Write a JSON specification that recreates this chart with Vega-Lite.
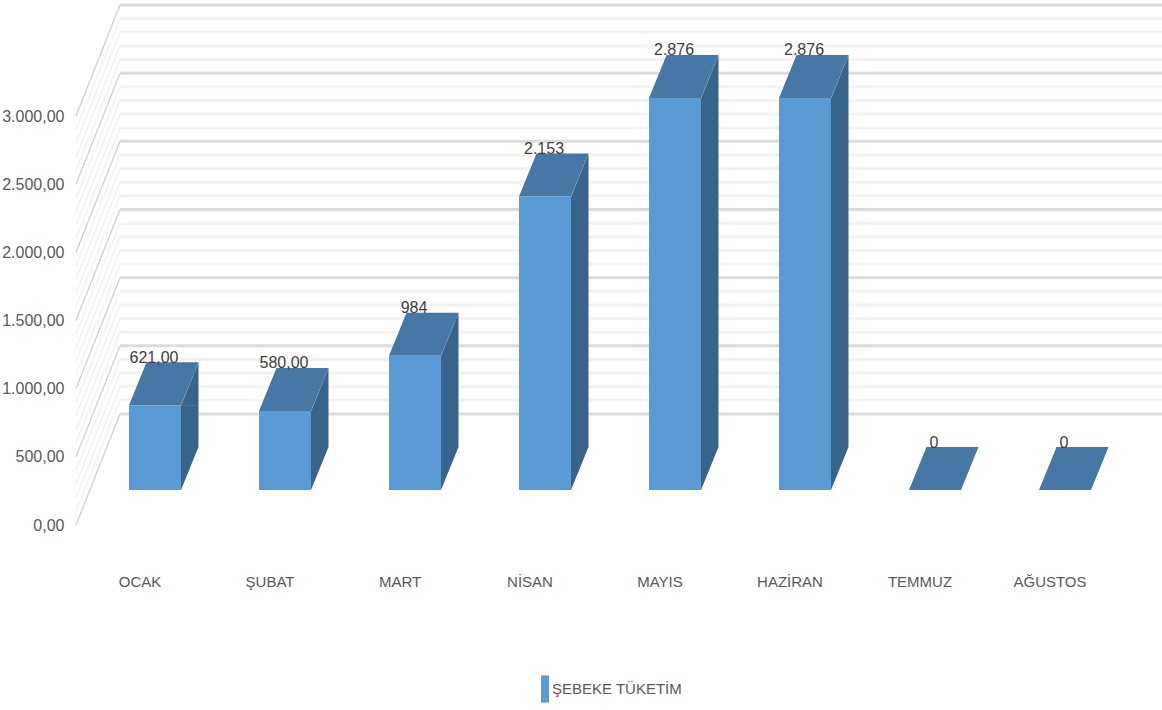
{"$schema":"https://vega.github.io/schema/vega-lite/v6.json","width":1042,"height":525,"padding":{"left":120,"top":0,"right":0,"bottom":185},"autosize":"none","background":"white","config":{"view":{"stroke":null},"locale":{"number":{"decimal":",","thousands":".","grouping":[3],"currency":["",""]}},"font":"Liberation Sans"},"data":{"values":[{"month":"OCAK","value":621,"label":"621,00"},{"month":"ŞUBAT","value":580,"label":"580,00"},{"month":"MART","value":984,"label":"984"},{"month":"NİSAN","value":2153,"label":"2.153"},{"month":"MAYIS","value":2876,"label":"2.876"},{"month":"HAZİRAN","value":2876,"label":"2.876"},{"month":"TEMMUZ","value":0,"label":"0"},{"month":"AĞUSTOS","value":0,"label":"0"}]},"encoding":{"x":{"field":"month","type":"nominal","sort":null,"scale":{"range":[-30,1010],"paddingInner":0,"paddingOuter":0},"axis":{"title":null,"domain":false,"ticks":false,"labelAngle":0,"labelOffset":-15,"labelPadding":49,"labelFontSize":15,"labelColor":"#595959","labelFont":"Liberation Sans"}},"y":{"field":"value","type":"quantitative","scale":{"domain":[0,3000],"range":[525,116]},"axis":{"title":null,"domain":false,"ticks":false,"grid":false,"values":[0,500,1000,1500,2000,2500,3000],"format":",.2f","labelPadding":56,"labelFontSize":16,"labelColor":"#595959","labelFont":"Liberation Sans"}}},"layer":[{"data":{"values":[{"value":100},{"value":200},{"value":300},{"value":400},{"value":600},{"value":700},{"value":800},{"value":900},{"value":1100},{"value":1200},{"value":1300},{"value":1400},{"value":1600},{"value":1700},{"value":1800},{"value":1900},{"value":2100},{"value":2200},{"value":2300},{"value":2400},{"value":2600},{"value":2700},{"value":2800},{"value":2900}]},"mark":{"type":"rule","yOffset":-111,"stroke":"#f3f3f3","strokeWidth":3},"encoding":{"x":{"value":0},"x2":{"value":1042}}},{"data":{"values":[{"value":0},{"value":500},{"value":1000},{"value":1500},{"value":2000},{"value":2500},{"value":3000}]},"mark":{"type":"rule","yOffset":-111,"stroke":"#dcdcdc","strokeWidth":3},"encoding":{"x":{"value":0},"x2":{"value":1042}}},{"data":{"values":[{"value":100},{"value":200},{"value":300},{"value":400},{"value":600},{"value":700},{"value":800},{"value":900},{"value":1100},{"value":1200},{"value":1300},{"value":1400},{"value":1600},{"value":1700},{"value":1800},{"value":1900},{"value":2100},{"value":2200},{"value":2300},{"value":2400},{"value":2600},{"value":2700},{"value":2800},{"value":2900}]},"mark":{"type":"point","shape":"M-44,0L0,-111","filled":false,"size":4,"stroke":"#eeeeee","strokeWidth":1,"opacity":1},"encoding":{"x":{"value":0}}},{"data":{"values":[{"value":0},{"value":500},{"value":1000},{"value":1500},{"value":2000},{"value":2500},{"value":3000}]},"mark":{"type":"point","shape":"M-44,0L0,-111","filled":false,"size":4,"stroke":"#d0d0d0","strokeWidth":1.3,"opacity":1},"encoding":{"x":{"value":0}}},{"transform":[{"filter":"datum.value > 0"}],"mark":{"type":"rule","xOffset":34.75,"yOffset":-35,"y2Offset":-78,"stroke":"#38648C","strokeWidth":17.5},"encoding":{"y2":{"datum":0}}},{"transform":[{"filter":"datum.value > 0"}],"mark":{"type":"point","shape":"M26,0.5L43.5,-43L43.5,0.5Z","filled":true,"size":4,"yOffset":-35,"fill":"#38648C","opacity":1,"strokeWidth":0}},{"transform":[{"filter":"datum.value > 0"}],"mark":{"type":"point","shape":"M26,0L43.5,-43L26,-43.5Z","filled":true,"size":4,"yOffset":-35,"fill":"#38648C","opacity":1,"strokeWidth":0},"encoding":{"y":{"datum":0}}},{"mark":{"type":"point","shape":"M-26,0L26,0L43.5,-43L-8.5,-43Z","filled":true,"size":4,"yOffset":-35,"fill":"#4677A5","opacity":1,"strokeWidth":0}},{"mark":{"type":"bar","width":52,"yOffset":-35,"y2Offset":-35},"encoding":{"y2":{"datum":0},"color":{"datum":"ŞEBEKE TÜKETİM","scale":{"range":["#5B9BD5"]},"legend":{"title":null,"orient":"none","legendX":416,"legendY":680,"symbolType":"M-0.5,-1.7H0.5V1.7H-0.5Z","symbolSize":256,"labelFontSize":15,"labelColor":"#595959","labelFont":"Liberation Sans","labelLimit":300,"labelOffset":-2}}}},{"mark":{"type":"text","fontSize":16,"color":"#404040","xOffset":-1,"yOffset":-82.5,"font":"Liberation Sans"},"encoding":{"text":{"field":"label"}}}]}
